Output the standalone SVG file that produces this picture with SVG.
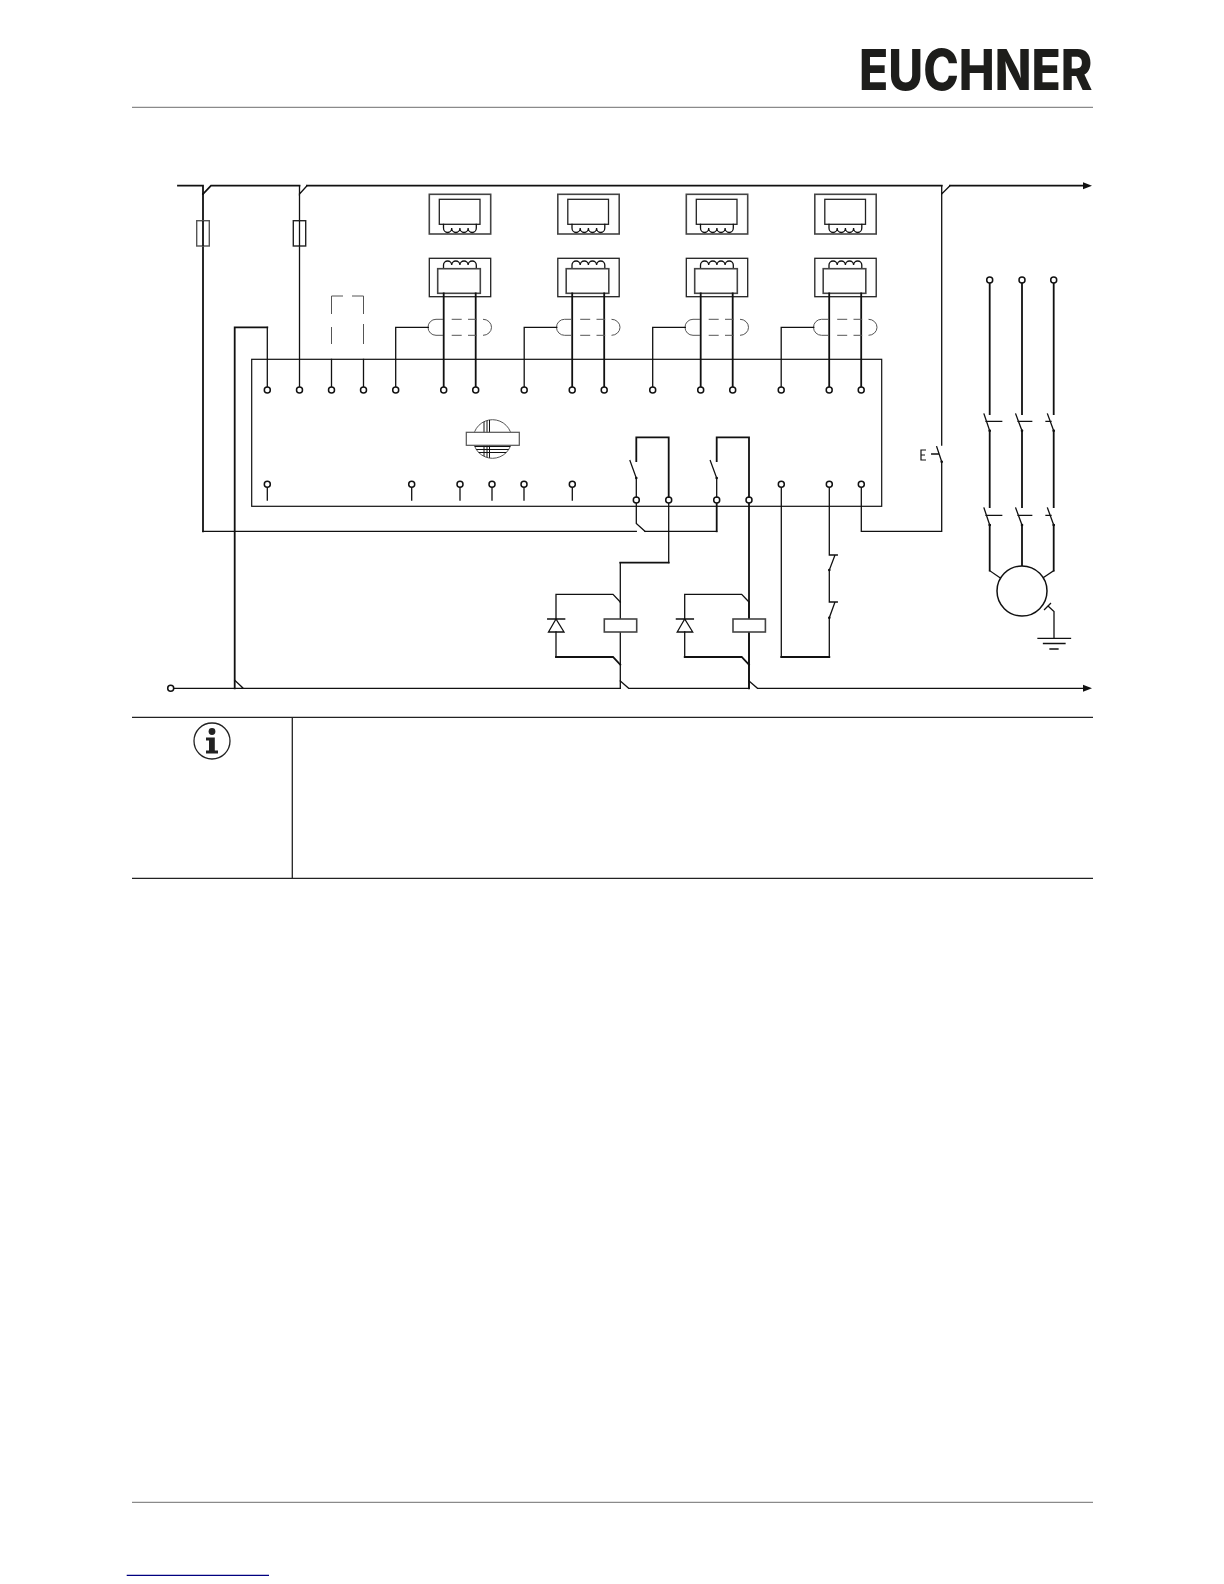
<svg xmlns="http://www.w3.org/2000/svg" xmlns:xlink="http://www.w3.org/1999/xlink" width="1224" height="1584" viewBox="0 0 1224 1584">
<style>
.w{fill:none;stroke:#111;stroke-width:1.3;stroke-linecap:square;stroke-linejoin:miter}
.t{fill:none;stroke:#111;stroke-width:1.8;stroke-linecap:square;stroke-linejoin:miter}
.b{fill:#fff;stroke:#222;stroke-width:1.3}
.g{fill:#fff;stroke:#444;stroke-width:1.6}
.s{fill:none;stroke:#555;stroke-width:1}
.p{fill:#fff;stroke:#111;stroke-width:1.5}
.d{fill:#111}
.r{stroke:#8a8a8a;stroke-width:1.3}
.l{stroke:#222;stroke-width:1.3}
</style>
<defs>
<circle id="pin" r="3" class="p"/>
<g id="sensor">
<rect x="429.3" y="194.3" width="61.4" height="39.7" class="g"/>
<rect x="439.3" y="199.3" width="40.7" height="25" class="b"/>
<path class="w" d="M443.5 224.3v3.7a4.1 4.5 0 0 0 8.2 0a4.1 4.5 0 0 0 8.2 0a4.1 4.5 0 0 0 8.2 0a4.1 4.5 0 0 0 8.2 0v-3.7"/>
<rect x="429.3" y="258.3" width="61.4" height="38.4" class="b"/>
<path class="w" d="M443.5 268.7v-3.7a4.1 4 0 0 1 8.2 0a4.1 4 0 0 1 8.2 0a4.1 4 0 0 1 8.2 0a4.1 4 0 0 1 8.2 0v3.7"/>
<rect x="437.7" y="268.7" width="42.6" height="24.6" class="g"/>
<path class="t" d="M443.7 293.3V386M475.7 293.3V386"/>
<path class="s" d="M443 319.3H436a8 8 0 0 0 0 16H443M451.7 319.3H461.7M468 319.3H476.7M451.7 335.3H461.7M468 335.3H476.7M483 319.3a8.5 8 0 0 1 0 16"/>
<path class="w" d="M428.3 327.3H395.7V387"/>
<use xlink:href="#pin" href="#pin" x="395.7" y="390"/>
<use xlink:href="#pin" href="#pin" x="443.7" y="390"/>
<use xlink:href="#pin" href="#pin" x="475.7" y="390"/>
</g>
<g id="relay">
<path class="w" d="M620.3 632V688.3M620.3 602V619"/>
<path class="w" d="M556 619V594.3H613L620.3 602"/>
<path class="w" d="M556 632V657"/>
<path class="t" d="M556 657H613L620.3 664.7"/>
<path class="w" d="M547.7 619H564.7M556 619L548.5 632H564Z"/>
<rect x="604.3" y="619" width="32.4" height="13" class="g"/>
</g>
</defs>

<g id="header">
<text id="logo" x="859" y="90" font-family="Inter, Roboto, 'Liberation Sans', sans-serif" font-weight="800" font-size="56" textLength="233.5" lengthAdjust="spacingAndGlyphs" fill="#1d1d1b">EUCHNER</text>
<line class="r" x1="132" y1="107.3" x2="1093" y2="107.3"/>
</g>

<g id="connectors">
<path class="t" d="M178 185.7H203V194"/>
<path class="t" d="M203 194L211 185.7H299.5"/>
<path class="w" d="M299.5 185.7V194L307 185.7"/>
<path class="t" d="M307 185.7H941.7"/>
<path class="w" d="M941.7 185.7V194L950 185.7"/>
<path class="t" d="M950 185.7H1084"/>
<path d="M1083 182.2L1092 185.7L1083 189.2Z" class="d"/>
<path class="t" d="M203 194V531.3"/>
<path class="w" d="M203 531.3H636.3M645 531.3H716.7"/>
<path class="w" d="M636.3 503V523.5L645 531.3"/>
<path class="t" d="M716.7 503V531.3"/>
<path class="t" d="M234.7 688.3V327.3H267.3"/>
<path class="w" d="M267.3 327.3V387"/>
<path class="w" d="M299.5 194V387"/>
<path class="w" d="M331.5 359.3V387M363.5 359.3V387"/>
<path class="s" d="M331.5 314V296H343M352 296H363.5V314M331.5 327V344M363.5 324V344"/>
<path class="w" d="M173.7 688.3H243.3M234.7 680.3L243.3 688.3H620.3"/>
<path class="w" d="M620.3 681L628.7 688.3H749"/>
<path class="w" d="M749 681L757.5 688.3H1084"/>
<path d="M1083 684.8L1092 688.3L1083 691.8Z" class="d"/>
<path class="w" d="M668.7 503V562.7"/>
<path class="t" d="M668.7 562.7H620.3"/>
<path class="w" d="M620.3 562.7V602"/>
<path class="t" d="M749 503V688.3"/>
<path class="w" d="M781.3 487.3V657"/>
<path class="t" d="M781.3 657H829.3"/>
<path class="w" d="M829.3 487.3V555H837.3M835 555L829.3 570V602H837.3M835 602L829.3 617.7V657"/>
<circle cx="829.3" cy="570" r="1.3" class="d"/>
<circle cx="829.3" cy="617.7" r="1.3" class="d"/>
<path class="w" d="M861.3 487.3V531.3H941.7V461.7M941.7 194V445"/>
</g>

<g id="controller">
<rect x="251.7" y="359.3" width="630" height="147" fill="none" stroke="#111" stroke-width="1.2"/>
<use xlink:href="#pin" href="#pin" x="267.3" y="390"/>
<use xlink:href="#pin" href="#pin" x="299.5" y="390"/>
<use xlink:href="#pin" href="#pin" x="331.5" y="390"/>
<use xlink:href="#pin" href="#pin" x="363.5" y="390"/>
<path class="w" d="M267.3 487V500M411.7 487V500M460 487V500M492 487V500M524 487V500M572.3 487V500"/>
<use xlink:href="#pin" href="#pin" x="267.3" y="484.3"/>
<use xlink:href="#pin" href="#pin" x="411.7" y="484.3"/>
<use xlink:href="#pin" href="#pin" x="460" y="484.3"/>
<use xlink:href="#pin" href="#pin" x="492" y="484.3"/>
<use xlink:href="#pin" href="#pin" x="524" y="484.3"/>
<use xlink:href="#pin" href="#pin" x="572.3" y="484.3"/>
<use xlink:href="#pin" href="#pin" x="781.3" y="484.3"/>
<use xlink:href="#pin" href="#pin" x="829.3" y="484.3"/>
<use xlink:href="#pin" href="#pin" x="861.3" y="484.3"/>
<use xlink:href="#pin" href="#pin" x="636.3" y="500"/>
<use xlink:href="#pin" href="#pin" x="668.7" y="500"/>
<use xlink:href="#pin" href="#pin" x="716.7" y="500"/>
<use xlink:href="#pin" href="#pin" x="749" y="500"/>
</g>

<g id="sensor-1"><use xlink:href="#sensor" href="#sensor"/></g>
<g id="sensor-2" transform="translate(128.5 0)"><use xlink:href="#sensor" href="#sensor"/></g>
<g id="sensor-3" transform="translate(257 0)"><use xlink:href="#sensor" href="#sensor"/></g>
<g id="sensor-4" transform="translate(385.5 0)"><use xlink:href="#sensor" href="#sensor"/></g>

<g id="fuse-1"><rect x="196.7" y="220.7" width="12.6" height="25.3" fill="#fff" stroke="#555" stroke-width="1.4"/><line x1="203" y1="220.7" x2="203" y2="246" stroke="#111" stroke-width="1.8"/></g>
<g id="fuse-2"><rect x="293.3" y="220.7" width="12.4" height="25.3" fill="#fff" stroke="#222" stroke-width="1.4"/><line x1="299.5" y1="220.7" x2="299.5" y2="246" stroke="#111" stroke-width="1.3"/></g>

<g id="emblem">
<clipPath id="ec"><circle cx="492.5" cy="439" r="19.3"/></clipPath>
<circle cx="492.5" cy="439" r="19.3" fill="#fff" stroke="#555" stroke-width="1"/>
<g clip-path="url(#ec)" stroke="#111" stroke-width="1">
<path d="M484 419V458M487 419V458M489.5 419V458M466 446.5H520M466 449.5H520M466 452.5H520"/>
</g>
<rect x="466.3" y="432.3" width="53" height="13" fill="#fff" stroke="#555" stroke-width="1.2"/>
</g>

<g id="contact-k1">
<path class="t" d="M636.3 461V437.3H668.7V497"/>
<path class="w" d="M630 460.7L636.3 478V497"/>
<circle cx="636.3" cy="478" r="1.3" class="d"/>
</g>
<g id="contact-k2">
<path class="t" d="M716.7 461V437.3H749V497"/>
<path class="w" d="M710.3 460.7L716.7 478V497"/>
<circle cx="716.7" cy="478" r="1.3" class="d"/>
</g>

<g id="relay-1"><use xlink:href="#relay" href="#relay"/></g>
<g id="relay-2" transform="translate(128.7 0)"><use xlink:href="#relay" href="#relay"/></g>

<g id="pushbutton">
<path class="w" d="M936.7 446.7L941.7 461.7M931.7 454H938.7"/>
<circle cx="941.7" cy="461.7" r="1.3" class="d"/>
<path class="s" style="stroke:#111;stroke-width:1.2" d="M926 450H921V460H926M921 455H925"/>
</g>

<use xlink:href="#pin" href="#pin" x="170.7" y="688.3"/>

<g id="motor-circuit">
<path class="t" d="M989.7 283V414M1022 283V414M1053.7 283V414"/>
<path class="t" d="M989.7 430.7V507M1022 430.7V507M1053.7 430.7V507"/>
<path class="t" d="M989.7 525V570.7M1022 525V566M1053.7 525V570.7"/>
<path class="w" d="M989.7 570.7L1000 577.7M1053.7 570.7L1043.3 577.7"/>
<path class="w" d="M984 414L989.7 430.7M986 421.3H1001.7M1015.7 414L1022 430.7M1018 421.3H1031.7M1047.5 414L1053.7 430.7M1046 421.3H1051"/>
<path class="w" d="M984 508L989.7 525M986 515.3H1001.7M1015.7 508L1022 525M1018 515.3H1031.7M1047.5 508L1053.7 525M1046 515.3H1051"/>
<g class="d">
<circle cx="989.7" cy="430.7" r="1.3"/><circle cx="1022" cy="430.7" r="1.3"/><circle cx="1053.7" cy="430.7" r="1.3"/>
<circle cx="989.7" cy="525" r="1.3"/><circle cx="1022" cy="525" r="1.3"/><circle cx="1053.7" cy="525" r="1.3"/>
</g>
<use xlink:href="#pin" href="#pin" x="989.7" y="280"/>
<use xlink:href="#pin" href="#pin" x="1022" y="280"/>
<use xlink:href="#pin" href="#pin" x="1053.7" y="280"/>
<circle cx="1022" cy="591" r="25" fill="#fff" stroke="#111" stroke-width="1.5"/>
<path class="w" d="M1044.5 609.5L1050.5 603.5M1048 606L1054 611.5V638.3M1038 638.3H1070.5M1043.5 643.5H1065M1050 649H1058"/>
</g>

<g id="note">
<line class="l" x1="132" y1="717.3" x2="1093" y2="717.3"/>
<line class="l" x1="132" y1="878.3" x2="1093" y2="878.3"/>
<line class="l" x1="292.3" y1="717.3" x2="292.3" y2="878.3"/>
<g id="info-icon">
<circle cx="212" cy="741" r="18" fill="#fff" stroke="#222" stroke-width="1.3"/>
<circle cx="212" cy="731.5" r="3.4" fill="#222"/>
<path d="M206 737.5H214.8V750.5H218V753.5H206V750.5H209V740.5H206Z" fill="#222"/>
</g>
</g>

<g id="footer">
<line class="r" x1="132" y1="1502.3" x2="1093" y2="1502.3"/>
<line x1="126.7" y1="1575.3" x2="269" y2="1575.3" stroke="#000080" stroke-width="1.2"/>
</g>
</svg>
